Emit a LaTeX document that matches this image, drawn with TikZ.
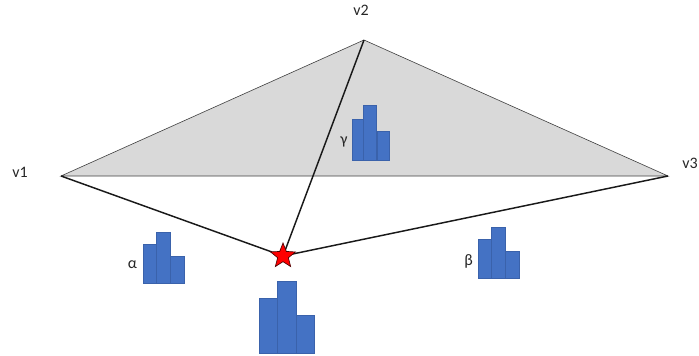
\documentclass[tikz,border=0pt]{standalone}
\usepackage{fontspec}
\setmainfont{Carlito}
\usetikzlibrary{shapes.geometric}
\definecolor{barblue}{HTML}{4472C4}
\definecolor{barline}{HTML}{3A62AB}
\definecolor{trifill}{HTML}{D9D9D9}
\tikzset{
  px/.style={x=0.75pt,y=-0.75pt},
  bar/.style={fill=barblue,draw=barline,line width=0.5pt},
  tri/.style={fill=trifill,draw=black!75,line width=0.45pt},
  ray/.style={draw=black!90,line width=1.1pt},
  lab/.style={inner sep=0pt,font=\fontsize{12}{14}\selectfont,text=black!85},
  starmark/.style={star,star points=5,star point ratio=2.3,minimum size=19.5pt,inner sep=0pt,fill=red,draw=black!70!red,line width=0.5pt}
}
\begin{document}
\begin{tikzpicture}[px]
\useasboundingbox (0,0) rectangle (699,356);
\coordinate (v1) at (61,176);
\coordinate (v2) at (364,40);
\coordinate (v3) at (668,176);
\path[tri] (v1) -- (v2) -- (v3) -- cycle;
\coordinate (c) at (283,256);
\draw[ray] (v1) -- (c);
\draw[ray] (v2) -- (c);
\draw[ray] (v3) -- (c);
\node[starmark] (s) at (c) {};
\node[lab] (l1) at (20,172) {v1};
\node[lab] (l2) at (361,10) {v2};
\node[lab] (l3) at (690,163) {v3};
\node[lab] (la) at (132.5,265) {α};
\node[lab] (lb) at (468.5,261) {β};
\node[lab] (lg) at (344,142) {γ};
% alpha
\path[bar] (143,244) rectangle (156,283.5);
\path[bar] (156,232) rectangle (170,283.5);
\path[bar] (170,256) rectangle (184.5,283.5);
% beta
\path[bar] (478,239.5) rectangle (491,278);
\path[bar] (491,227.5) rectangle (505,278);
\path[bar] (505,251.5) rectangle (519.5,278);
% gamma
\path[bar] (352.5,119) rectangle (363.5,160.5);
\path[bar] (363.5,105.5) rectangle (376,160.5);
\path[bar] (377,131.5) rectangle (389,160.5);
% big
\path[bar] (259.5,298) rectangle (277.5,353);
\path[bar] (277.5,281) rectangle (296,353);
\path[bar] (296,315.5) rectangle (314.5,353);
\end{tikzpicture}
\end{document}
